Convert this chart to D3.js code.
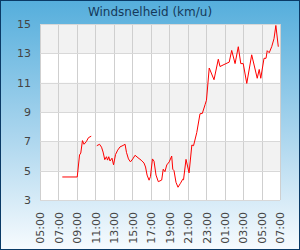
<!DOCTYPE html>
<html>
<head>
<meta charset="utf-8">
<script src="https://cdn.jsdelivr.net/npm/d3@7"></script>
<style>
  html, body { margin: 0; padding: 0; }
  body { width: 300px; height: 250px; overflow: hidden; font-family: "DejaVu Sans", sans-serif; }
</style>
</head>
<body>
<div id="chart"></div>
<script>
// Measurement times (HH:MM, from 05:00 one day to 07:00 the next); null = no data
const times = [
    "07:25", "09:02", "09:17", "09:25", "09:36", "09:46", "10:01", "10:15", "10:33", "10:50",
    "11:09", "11:27", "11:40", "11:50", "12:01", "12:12", "12:19", "12:27", "12:35", "12:48",
    "12:58", "13:11", "13:25", "13:40", "14:00", "14:13", "14:22", "14:35", "14:48", "15:03",
    "15:18", "15:37", "15:57", "16:16", "16:26", "16:36", "16:49", "16:58", "17:11", "17:21",
    "17:34", "17:49", "18:11", "18:21", "18:32", "18:44", "19:00", "19:16", "19:23", "19:31",
    "19:44", "19:57", "20:13", "20:28", "20:33", "20:49", "21:09", "21:27", "21:38", "21:59",
    "22:20", "22:35", "22:53", "23:02", "23:20", "23:51", "00:19", "00:30", "01:03", "01:30",
    "01:46", "02:08", "02:29", "02:45", "03:01", "03:24", "03:56", "04:32", "04:45", "04:55",
    "05:16", "05:29", "05:37", "05:50", "06:06", "06:21", "06:33", "06:49"
];
const windSpeed = [
    4.57, 4.57, 6.07, 6.2, 7.05, 6.8, 6.98, 7.25, 7.35, null,
    6.7, 6.8, 6.6, 6.27, 5.75, 5.95, 5.72, 5.95, 5.66, 5.85,
    5.4, 6.1, 6.4, 6.62, 6.72, 6.8, 6.25, 5.8, 5.6, 5.8,
    6.05, 5.88, 5.72, 5.52, 5.25, 4.7, 4.35, 4.6, 5.8, 5.65,
    4.7, 4.25, 4.36, 5.1, 4.93, 5.39, 5.6, 6.0, 5.1, 5.0,
    4.2, 3.87, 4.14, 4.42, 4.38, 5.77, 4.85, 6.75, 6.7, 7.6,
    8.88, 8.9, 9.5, 9.8, 12.0, 11.2, 12.6, 12.1, 12.27, 12.4,
    13.2, 12.3, 13.45, 12.3, 12.3, 10.95, 12.9, 11.3, 11.9, 11.3,
    12.66, 12.66, 13.18, 13.04, 13.45, 14.0, 14.9, 13.45
];
const yTicks = [3, 5, 7, 9, 11, 13, 15];
const title = "Windsnelheid (km/u)";

const W = 300, H = 250;
const margin = { top: 24, right: 20, bottom: 50, left: 40 };
const width = W - margin.left - margin.right;
const height = H - margin.top - margin.bottom;

// Turn HH:MM strings into dates, rolling over to the next day after midnight
const start = new Date(2024, 0, 1, 5, 0);
const end = new Date(2024, 0, 2, 7, 0);
let dayOffset = 0, prevMin = -1;
const data = times.map((t, i) => {
    const [hh, mm] = t.split(":").map(Number);
    const min = hh * 60 + mm;
    if (min < prevMin) dayOffset++;
    prevMin = min;
    return { date: new Date(2024, 0, 1 + dayOffset, hh, mm), value: windSpeed[i] };
});

const svg = d3.select("#chart").append("svg")
    .attr("width", W)
    .attr("height", H);

// Background gradient
const grad = svg.append("defs").append("linearGradient")
    .attr("id", "bg").attr("x1", 0).attr("y1", 0).attr("x2", 0).attr("y2", 1);
grad.append("stop").attr("offset", "0%").attr("stop-color", "#55aedc");
grad.append("stop").attr("offset", "55%").attr("stop-color", "#acd6ee");
grad.append("stop").attr("offset", "100%").attr("stop-color", "#f7fbfe");

svg.append("rect")
    .attr("x", 0.5).attr("y", 0.5)
    .attr("width", W - 1).attr("height", H - 1)
    .attr("fill", "url(#bg)")
    .attr("stroke", "#0a3a66")
    .attr("stroke-width", 1);

svg.append("text")
    .attr("x", W / 2)
    .attr("y", 16)
    .attr("text-anchor", "middle")
    .style("font-size", "12px")
    .style("fill", "#15395a")
    .text(title);

const g = svg.append("g")
    .attr("transform", `translate(${margin.left},${margin.top})`);

const x = d3.scaleTime().domain([start, end]).range([0, width]);
const y = d3.scaleLinear().domain([3, 15]).range([height, 0]);

// Plot background + alternating bands
g.append("rect")
    .attr("width", width).attr("height", height)
    .attr("fill", "#ffffff");

g.selectAll(".band")
    .data(d3.pairs(yTicks).filter((d, i) => i % 2 === 1))
    .enter()
    .append("rect")
    .attr("class", "band")
    .attr("x", 0)
    .attr("width", width)
    .attr("y", d => y(d[1]))
    .attr("height", d => y(d[0]) - y(d[1]))
    .attr("fill", "#f2f2f2");

// Grid lines, every 2 hours starting at 05:00
const xTicks = d3.range(0, 14).map(i => d3.timeHour.offset(start, 2 * i));
g.selectAll(".vgrid")
    .data(xTicks)
    .enter()
    .append("line")
    .attr("class", "vgrid")
    .attr("x1", d => Math.round(x(d)) + 0.5)
    .attr("x2", d => Math.round(x(d)) + 0.5)
    .attr("y1", 0)
    .attr("y2", height)
    .attr("stroke", "#cfcfcf");

g.selectAll(".hgrid")
    .data(yTicks)
    .enter()
    .append("line")
    .attr("class", "hgrid")
    .attr("x1", 0)
    .attr("x2", width)
    .attr("y1", d => Math.round(y(d)) + 0.5)
    .attr("y2", d => Math.round(y(d)) + 0.5)
    .attr("stroke", "#d8d8d8");

// Axes (labels only)
const yAxis = g.append("g")
    .call(d3.axisLeft(y).tickValues(yTicks).tickSize(0).tickPadding(9));
yAxis.select(".domain").remove();
yAxis.selectAll("text")
    .style("font-family", "DejaVu Sans, sans-serif")
    .style("font-size", "11px")
    .style("fill", "#444");

const xAxis = g.append("g")
    .attr("transform", `translate(0,${height})`)
    .call(d3.axisBottom(x).tickValues(xTicks).tickFormat(d3.timeFormat("%H:%M")).tickSize(0));
xAxis.select(".domain").remove();
xAxis.selectAll("text")
    .style("font-family", "DejaVu Sans, sans-serif")
    .style("font-size", "11px")
    .style("fill", "#444")
    .attr("transform", "rotate(-90)")
    .attr("x", -12)
    .attr("y", 0)
    .attr("dy", "0.35em")
    .style("text-anchor", "end");

// Wind line
const line = d3.line()
    .defined(d => d.value !== null)
    .x(d => x(d.date))
    .y(d => y(d.value));

g.append("path")
    .datum(data)
    .attr("fill", "none")
    .attr("stroke", "#ff0000")
    .attr("stroke-width", 1)
    .attr("d", line);
</script>
</body>
</html>
